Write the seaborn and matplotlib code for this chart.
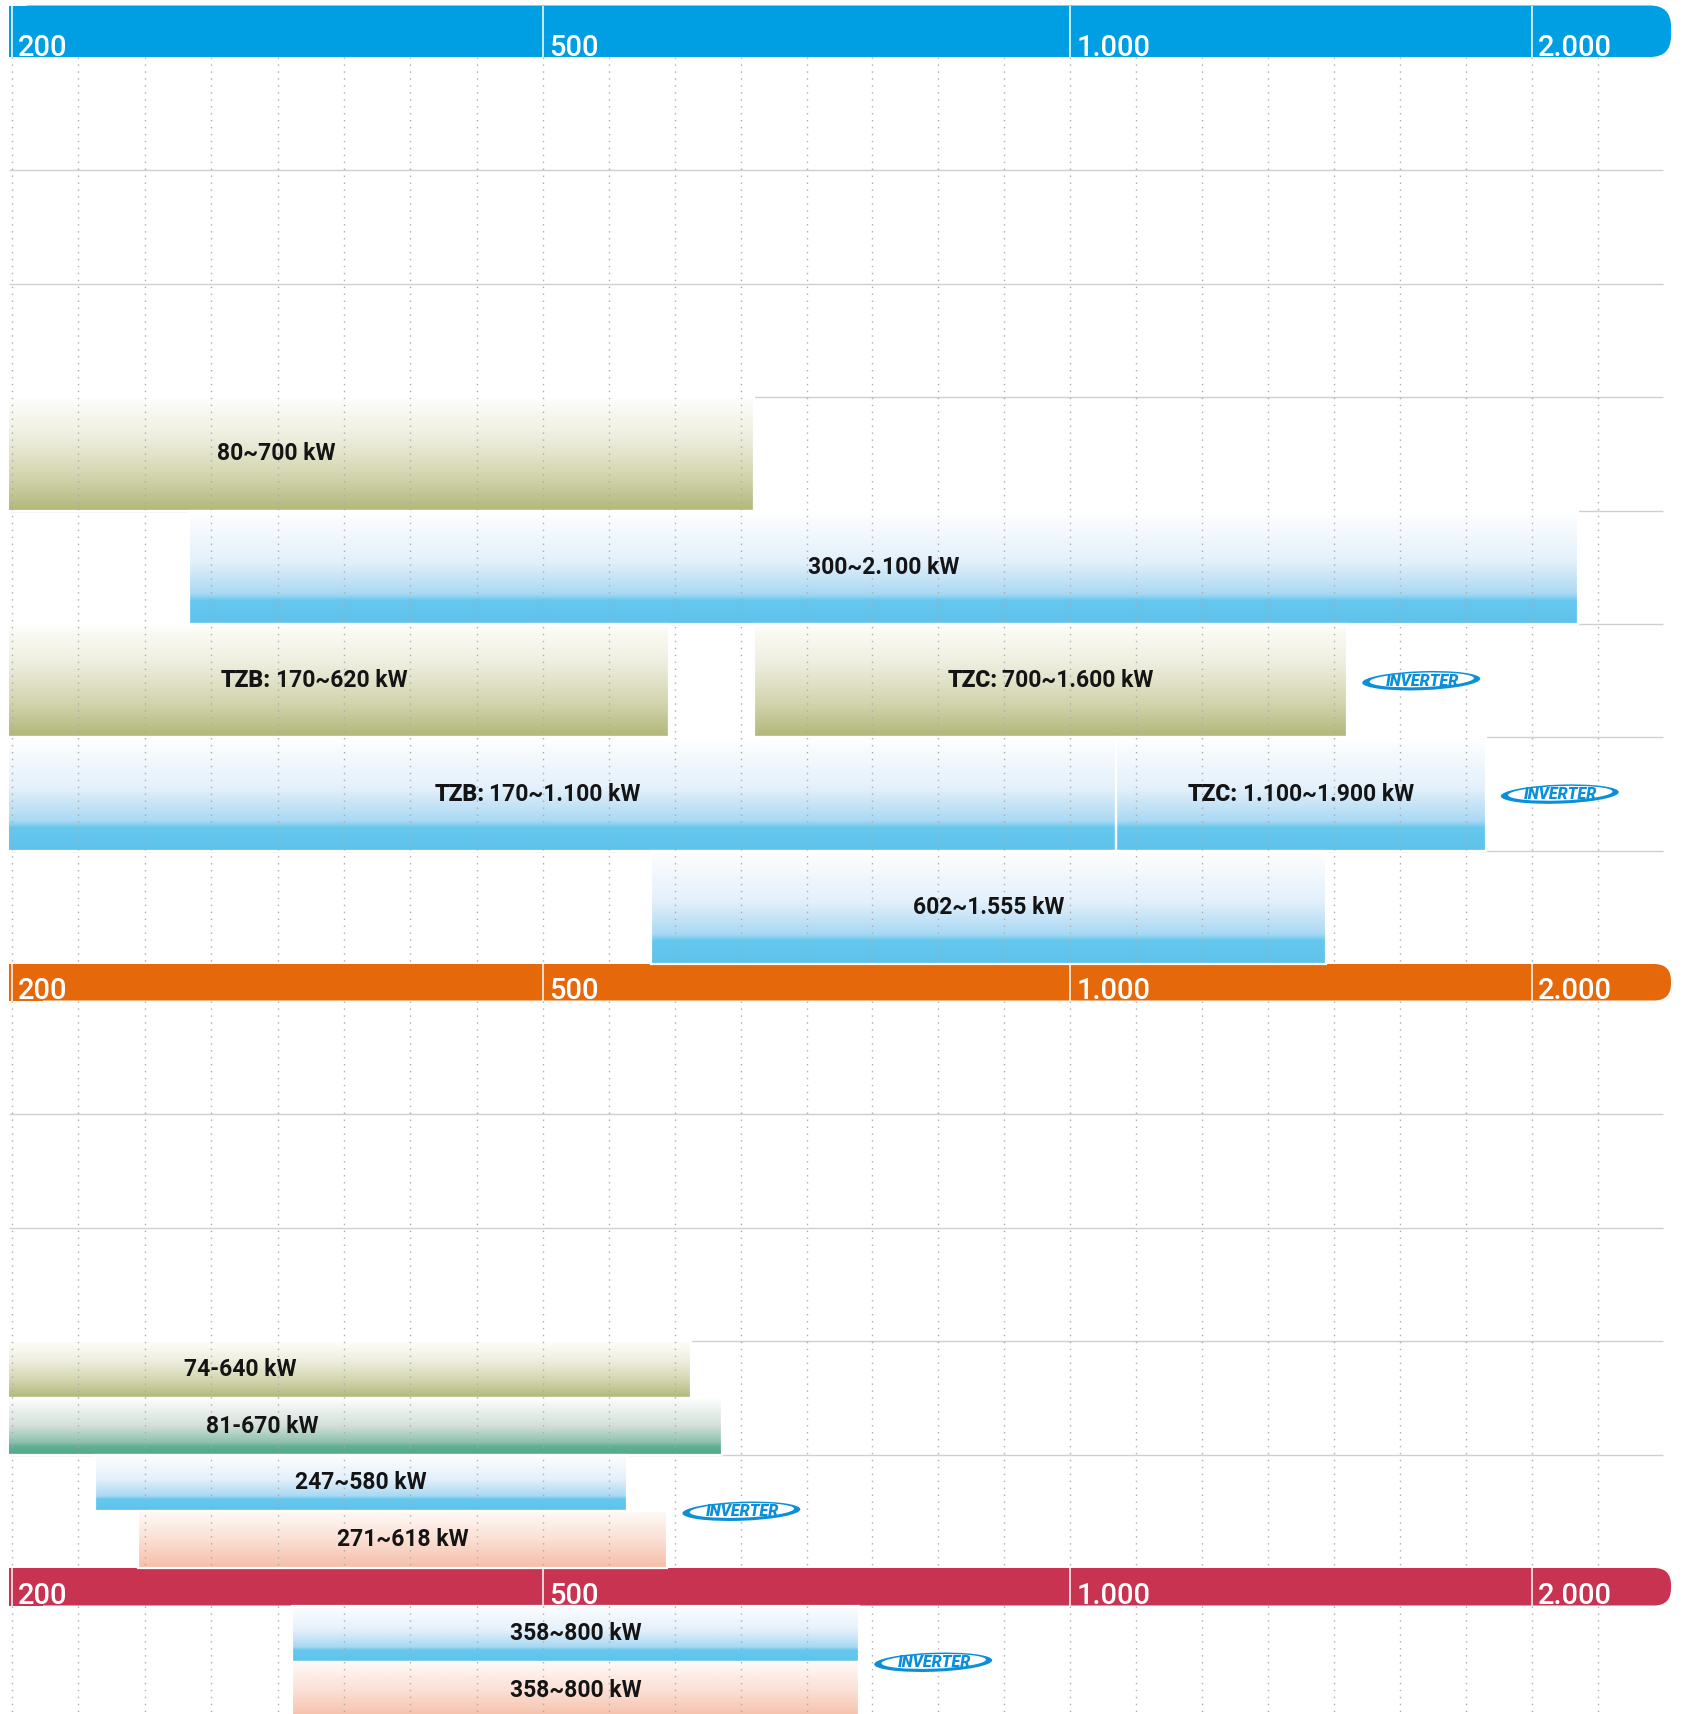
import numpy as np
import matplotlib
matplotlib.use("Agg")
import matplotlib.pyplot as plt
from matplotlib.colors import LinearSegmentedColormap
from matplotlib.patches import FancyBboxPatch, Rectangle, Ellipse
from matplotlib.transforms import IdentityTransform
import seaborn as sns

# ---------------------------------------------------------------- data
tick_values = [200, 500, 1000, 2000]
tick_labels = ["200", "500", "1.000", "2.000"]

# one entry per capacity bar: section, row inside the section, slot in the row
bar_section = [1, 1, 1, 1, 1, 1, 1, 2, 2, 2, 2, 3, 3]
bar_row = [3, 4, 5, 5, 6, 6, 7, 3, 3, 4, 4, 0, 0]
bar_slot = ["full", "full", "full", "full", "full", "full", "full",
            "upper", "lower", "upper", "lower", "upper", "lower"]
bar_start = [80, 300, 170, 700, 170, 1100, 602, 74, 81, 247, 271, 358, 358]
bar_end = [700, 2100, 620, 1600, 1100, 1900, 1555, 640, 670, 580, 618, 800, 800]
bar_tone = ["green", "blue", "green", "green", "blue", "blue", "blue",
            "green", "teal", "blue", "salmon", "blue", "salmon"]
bar_prefix = ["", "", "TZB:", "TZC:", "TZB:", "TZC:", "", "", "", "", "", "", ""]
bar_sep = ["~", "~", "~", "~", "~", "~", "~", "-", "-", "~", "~", "~", "~"]

# rows that carry the inverter badge (section, row)
inverter_section = [1, 1, 2, 3]
inverter_row = [5, 6, 4, 0]

# ---------------------------------------------------------------- layout / style
FIG_W, FIG_H = 1684, 1714
AX_LEFT = 9.0
HEADER_RIGHT = 1671.0
ROWLINE_RIGHT = 1663.0
headers = {1: (5.5, 57.0, "#009ee2", 21.0),
           2: (964.0, 1000.5, "#e5680a", 17.0),
           3: (1568.0, 1605.5, "#c73351", 17.0)}
body = {1: (57.0, 113.4, 8), 2: (1000.5, 113.5, 5), 3: (1605.5, 113.5, 1)}
KNOT_POS = np.array([12.0, 543.0, 1070.0, 1532.0])
KNOT_KW = np.array(tick_values, dtype=float)

BADGE_BLUE = "#0a8fd8"
TEXT_DARK = "#141414"

tones = {
    "green": [(0.0, "#fefefb"), (0.35, "#eeeedf"), (0.7, "#d3d5ae"), (1.0, "#b2b77a")],
    "blue": [(0.0, "#ffffff"), (0.45, "#e3f0fb"), (0.74, "#a9d8f3"), (0.8, "#66c8ee"), (1.0, "#5ec2eb")],
    "teal": [(0.0, "#ffffff"), (0.5, "#d5e0da"), (0.8, "#8dc2ad"), (0.87, "#62b095"), (1.0, "#55a98b")],
    "salmon": [(0.0, "#fffaf7"), (0.5, "#fbe0d5"), (1.0, "#f6bea8")],
}
cmaps = {k: LinearSegmentedColormap.from_list(k, v) for k, v in tones.items()}


# piecewise-linear capacity scale through the labelled ticks
def to_pos(v):
    v = np.asarray(v, dtype=float)
    s_lo = (KNOT_POS[1] - KNOT_POS[0]) / (KNOT_KW[1] - KNOT_KW[0])
    s_hi = (KNOT_POS[-1] - KNOT_POS[-2]) / (KNOT_KW[-1] - KNOT_KW[-2])
    out = np.interp(v, KNOT_KW, KNOT_POS)
    out = np.where(v < KNOT_KW[0], KNOT_POS[0] + (v - KNOT_KW[0]) * s_lo, out)
    out = np.where(v > KNOT_KW[-1], KNOT_POS[-1] + (v - KNOT_KW[-1]) * s_hi, out)
    return out


def to_kw(p):
    p = np.asarray(p, dtype=float)
    s_lo = (KNOT_KW[1] - KNOT_KW[0]) / (KNOT_POS[1] - KNOT_POS[0])
    s_hi = (KNOT_KW[-1] - KNOT_KW[-2]) / (KNOT_POS[-1] - KNOT_POS[-2])
    out = np.interp(p, KNOT_POS, KNOT_KW)
    out = np.where(p < KNOT_POS[0], KNOT_KW[0] + (p - KNOT_POS[0]) * s_lo, out)
    out = np.where(p > KNOT_POS[-1], KNOT_KW[-1] + (p - KNOT_POS[-1]) * s_hi, out)
    return out


def fmt(v):
    return f"{v:,}".replace(",", ".")


def slot_span(sec, row, slot):
    top, h, _ = body[sec]
    y0 = top + row * h
    if slot == "upper":
        return y0, y0 + h / 2
    if slot == "lower":
        return y0 + h / 2, y0 + h
    return y0, y0 + h


# dotted guide positions: eight steps per labelled interval up to 1.000, seven above
grid_kw = np.concatenate([np.linspace(200, 500, 9)[:-1],
                          np.linspace(500, 1000, 9)[:-1],
                          np.linspace(1000, 2000, 8),
                          [2000 + 1000 / 7]])

# ---------------------------------------------------------------- figure
sns.set_theme(style="white")
plt.rcParams["font.family"] = ["Roboto", "DejaVu Sans"]

fig = plt.figure(figsize=(FIG_W / 100, FIG_H / 100), dpi=100)
fig.patch.set_facecolor("white")

bg = fig.add_axes([0, 0, 1, 1], zorder=0)
bg.set_xlim(0, FIG_W)
bg.set_ylim(FIG_H, 0)
bg.axis("off")

ax = fig.add_axes([AX_LEFT / FIG_W, 0, 1 - AX_LEFT / FIG_W, 1], zorder=1)
ax.set_facecolor("none")

# header bands with a rounded right end
for sec, (y0, y1, col, r) in headers.items():
    bg.add_patch(FancyBboxPatch((AX_LEFT, y0), HEADER_RIGHT - AX_LEFT, y1 - y0,
                                boxstyle=f"round,pad=0,rounding_size={r}",
                                fc=col, ec="none"))
    bg.add_patch(Rectangle((AX_LEFT, y0), 2 * r, y1 - y0, fc=col, ec="none"))

# row separators
for sec, (top, h, n) in body.items():
    ys = [top + k * h for k in range(1, n)]
    if ys:
        bg.hlines(ys, AX_LEFT, ROWLINE_RIGHT, colors="#d0d0d0", linewidth=1.0)

# capacity bars
bar_patches = []
for i in range(len(bar_start)):
    y0, y1 = slot_span(bar_section[i], bar_row[i], bar_slot[i])
    sns.barplot(x=[bar_end[i] - bar_start[i]], y=[(y0 + y1) / 2], orient="h",
                native_scale=True, width=y1 - y0, left=bar_start[i],
                color=tones[bar_tone[i]][-1][1], saturation=1, errorbar=None,
                ax=ax)
    bar_patches.append(ax.patches[-1])

ax.set_xscale("function", functions=(to_pos, to_kw))
x_lo, x_hi = float(to_kw(AX_LEFT)), float(to_kw(FIG_W))

grad = np.linspace(0, 1, 256).reshape(-1, 1)
for i, patch in enumerate(bar_patches):
    y0, y1 = slot_span(bar_section[i], bar_row[i], bar_slot[i])
    img = ax.imshow(grad, cmap=cmaps[bar_tone[i]], vmin=0, vmax=1,
                    extent=(max(bar_start[i], x_lo), bar_end[i], y1, y0), origin="upper",
                    aspect="auto", interpolation="bilinear", zorder=2)
    img.set_clip_path(patch)
    img.set_clip_box(ax.bbox)
    patch.set_facecolor("none")
    patch.set_edgecolor("white")
    patch.set_linewidth(1.6)
    patch.set_zorder(2.5)

# dotted guides inside every section body
for sec, (top, h, n) in body.items():
    ax.vlines(grid_kw, top, min(top + n * h, FIG_H), colors="#ababab",
              linestyles=(0, (1, 4)), linewidth=1.0, zorder=4)

# header ticks and labels
for sec, (y0, y1, col, r) in headers.items():
    ax.vlines(tick_values, y0, y1, colors="white", linewidth=1.1, zorder=5)
    for v, lab in zip(tick_values, tick_labels):
        ax.annotate(lab, xy=(v, y1 - 1.5), xytext=(4.5, 0), textcoords="offset points",
                    ha="left", va="baseline", color="white", fontsize=21,
                    fontweight="medium", zorder=6, annotation_clip=False)

ax.set_xlim(x_lo, x_hi)
ax.set_ylim(FIG_H, 0)
ax.set_autoscale_on(False)
ax.axis("off")

# range labels, centred on the full extent of each bar
LABEL_SIZE = 16.5
pending = []
for i in range(len(bar_start)):
    y0, y1 = slot_span(bar_section[i], bar_row[i], bar_slot[i])
    xc = float(to_kw((to_pos(bar_start[i]) + to_pos(bar_end[i])) / 2))
    yc = (y0 + y1) / 2
    text = f"{fmt(bar_start[i])}{bar_sep[i]}{fmt(bar_end[i])} kW"
    if bar_prefix[i]:
        t1 = ax.text(xc, yc, bar_prefix[i], ha="left", va="center", fontsize=LABEL_SIZE,
                     fontweight="heavy", color=TEXT_DARK, zorder=6)
        t2 = ax.text(xc, yc, text, ha="left", va="center", fontsize=LABEL_SIZE,
                     fontweight="semibold", color=TEXT_DARK, zorder=6)
        pending.append((t1, t2, xc, yc))
    else:
        ax.text(xc, yc, text, ha="center", va="center", fontsize=LABEL_SIZE,
                fontweight="semibold", color=TEXT_DARK, zorder=6)

fig.canvas.draw()
renderer = fig.canvas.get_renderer()
inv = ax.transData.inverted()
for t1, t2, xc, yc in pending:
    w1 = t1.get_window_extent(renderer).width
    w2 = t2.get_window_extent(renderer).width
    gap = 5.0
    cx, cy = ax.transData.transform((xc, yc))
    x1 = cx - (w1 + gap + w2) / 2
    t1.set_position(tuple(inv.transform((x1, cy))))
    t2.set_position(tuple(inv.transform((x1 + w1 + gap, cy))))


# inverter badge placed just right of the longest bar in its row
def draw_badge(left, cy):
    w, h = 118.0, 19.0
    cx = left + w / 2
    ident = IdentityTransform()
    ax.add_patch(Ellipse((cx, cy), w, h, angle=2, transform=ident,
                         fc=BADGE_BLUE, ec="none", zorder=6))
    ax.add_patch(Ellipse((cx + 0.5, cy + 0.8), w * 0.885, h * 0.76, angle=2,
                         transform=ident, fc="white", ec="none", zorder=6.1))
    ax.text(cx + 1, cy - 0.5, "INVERTER", transform=ident, ha="center", va="center",
            fontsize=11.5, fontstyle="italic", fontweight="heavy", color=BADGE_BLUE,
            zorder=6.2)


for sec, row in zip(inverter_section, inverter_row):
    ends = [bar_end[i] for i in range(len(bar_end))
            if bar_section[i] == sec and bar_row[i] == row]
    top, h, _ = body[sec]
    yc = top + row * h + h / 2
    px, py = ax.transData.transform((max(ends), yc))
    draw_badge(px + 15, py)

fig.savefig("out.png", dpi=100, facecolor="white")
